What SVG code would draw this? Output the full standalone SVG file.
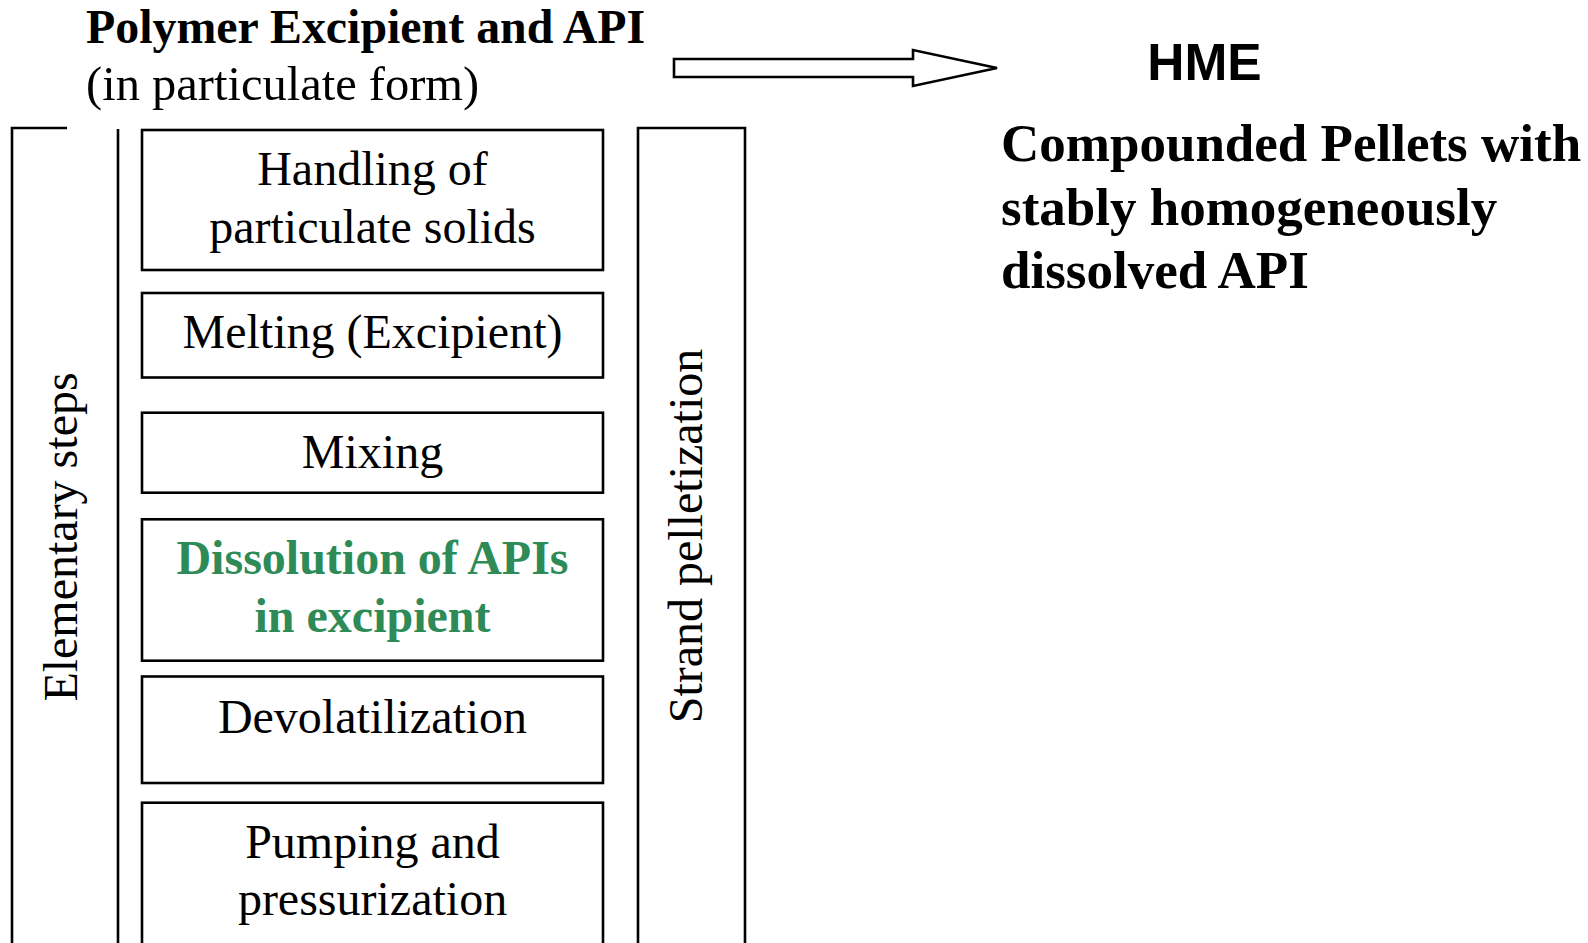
<svg xmlns="http://www.w3.org/2000/svg" width="1588" height="943" viewBox="0 0 1588 943">
<style>
.box{fill:#fff;stroke:#000;stroke-width:2.6}
.ln{fill:none;stroke:#000;stroke-width:2.6}
.t{font-family:"Liberation Serif","Times New Roman",serif;font-size:48px;fill:#000}
.tc{text-anchor:middle}
.b{font-weight:bold}
.g{fill:#2e8b57}
</style>
<rect width="1588" height="943" fill="#fff"/>
<g id="header">
<text class="t b" x="86" y="43" style="font-size:47.9px">Polymer Excipient and API</text>
<text class="t" x="86" y="100" style="font-size:48.5px">(in particulate form)</text>
</g>
<g id="connectors">
<path class="ln" d="M674,59 H913 V50 L997,68 L913,86 V77 H674 Z"/>
</g>
<g id="hme">
<text x="1204.5" y="80" text-anchor="middle" font-family="'Liberation Sans',Arial,sans-serif" font-weight="bold" font-size="51.5">HME</text>
</g>
<g id="result">
<text class="t b" x="1001" y="161" style="font-size:53px">Compounded Pellets with</text>
<text class="t b" x="1001" y="225" style="font-size:53px">stably homogeneously</text>
<text class="t b" x="1001" y="288" style="font-size:53px">dissolved API</text>
</g>
<g id="elementary-steps">
<path class="ln" d="M67,128 H12 V950"/>
<path class="ln" d="M118,129 V950"/>
<text class="t tc" transform="translate(77,537) rotate(-90)">Elementary steps</text>
</g>
<g id="strand-pelletization">
<path class="ln" d="M638,950 V128 H745 V950"/>
<text class="t tc" transform="translate(702,536) rotate(-90)">Strand pelletization</text>
</g>
<g id="handling">
<rect class="box" x="142" y="130" width="461" height="140"/>
<text class="t tc" x="372.5" y="185">Handling of</text>
<text class="t tc" x="372.5" y="243">particulate solids</text>
</g>
<g id="melting">
<rect class="box" x="142" y="293" width="461" height="84.5"/>
<text class="t tc" x="372.5" y="348">Melting (Excipient)</text>
</g>
<g id="mixing">
<rect class="box" x="142" y="412.7" width="461" height="80"/>
<text class="t tc" x="372.5" y="468">Mixing</text>
</g>
<g id="dissolution">
<rect class="box" x="142" y="519.3" width="461" height="141.4"/>
<text class="t tc b g" x="372.5" y="574">Dissolution of APIs</text>
<text class="t tc b g" x="372.5" y="631.7">in excipient</text>
</g>
<g id="devolatilization">
<rect class="box" x="142" y="676.5" width="461" height="106.5"/>
<text class="t tc" x="372.5" y="732.7">Devolatilization</text>
</g>
<g id="pumping">
<rect class="box" x="142" y="802.7" width="461" height="160"/>
<text class="t tc" x="372.5" y="858">Pumping and</text>
<text class="t tc" x="372.5" y="915">pressurization</text>
</g>
</svg>
